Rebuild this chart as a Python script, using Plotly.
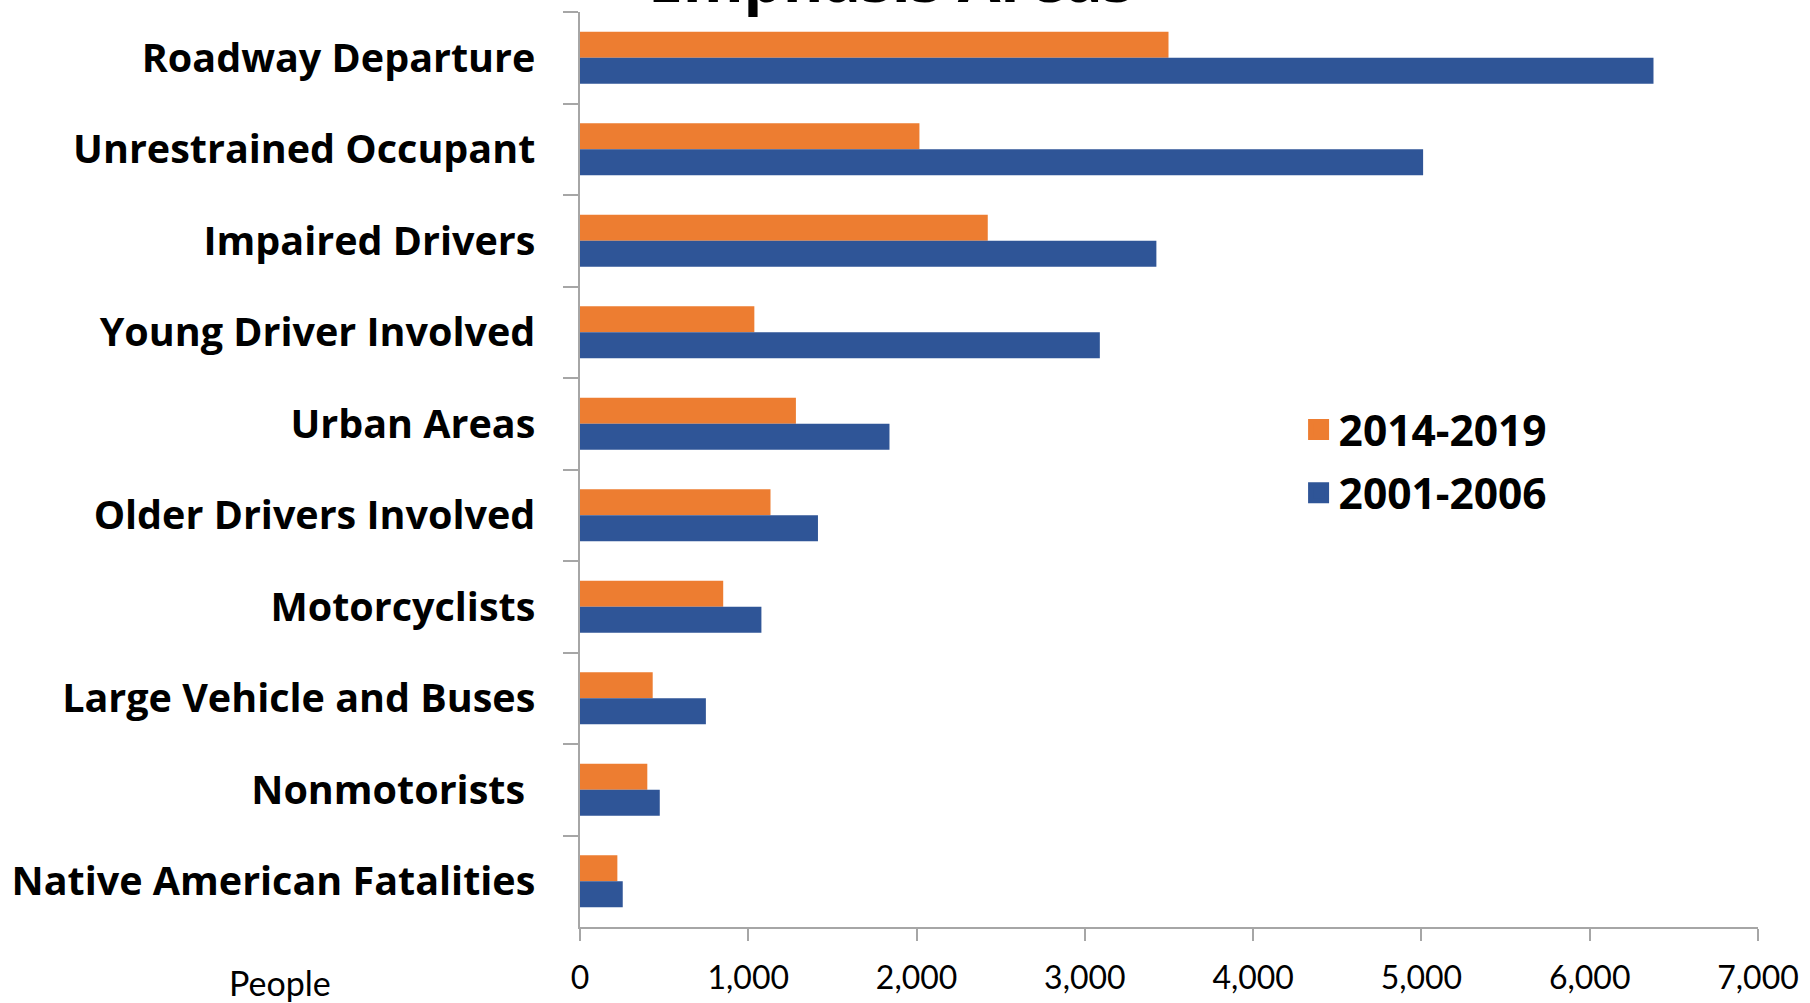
import plotly.graph_objects as go

categories = [
    "Roadway Departure",
    "Unrestrained Occupant",
    "Impaired Drivers",
    "Young Driver Involved",
    "Urban Areas",
    "Older Drivers Involved",
    "Motorcyclists",
    "Large Vehicle and Buses",
    "Nonmotorists\u00a0",
    "Native American Fatalities",
]
series_names = ["2014-2019", "2001-2006"]
values_2014_2019 = [3497, 2017, 2423, 1036, 1283, 1132, 851, 432, 400, 222]
values_2001_2006 = [6379, 5010, 3425, 3089, 1839, 1414, 1078, 748, 474, 254]
x_ticks = [0, 1000, 2000, 3000, 4000, 5000, 6000, 7000]

ORANGE = "#ED7D31"
BLUE = "#2F5597"
BOLD_FONT = "Open Sans, Calibri, Arial, sans-serif"
REG_FONT = "Lato, Calibri, Arial, sans-serif"

fig = go.Figure()
for name, vals, color in [(series_names[0], values_2014_2019, ORANGE),
                          (series_names[1], values_2001_2006, BLUE)]:
    fig.add_trace(go.Bar(
        y=categories, x=vals, orientation="h", name=name,
        marker=dict(color=color, line=dict(width=0)),
        showlegend=False, legendgroup=name,
    ))
    # legend entry with square marker
    fig.add_trace(go.Scatter(
        x=[None], y=[None], mode="markers", name=name, legendgroup=name,
        marker=dict(symbol="square", size=16, color=color,
                    line=dict(color=color, width=5)),
        showlegend=True,
    ))

fig.update_layout(
    width=1810, height=1003,
    margin=dict(l=580, r=52, t=12, b=76, autoexpand=False),
    paper_bgcolor="white", plot_bgcolor="white",
    barmode="group", bargap=0.43, bargroupgap=0,
    font=dict(family=REG_FONT, color="black"),
    legend=dict(
        x=0.610, y=0.581, xanchor="left", yanchor="top",
        font=dict(size=42.5, family=BOLD_FONT, color="black", weight="bold"),
        traceorder="grouped", tracegroupgap=5,
        bgcolor="rgba(0,0,0,0)",
    ),
    xaxis=dict(
        range=[0, 7000], tickvals=x_ticks, tickformat=",",
        showgrid=False, zeroline=False, automargin=False,
        showline=True, linecolor="#A6A6A6", linewidth=1.5,
        ticks="outside", ticklen=12, tickcolor="#A6A6A6", tickwidth=1.5,
        ticklabelstandoff=10,
        tickfont=dict(size=32, family=REG_FONT, color="black"),
    ),
    yaxis=dict(
        categoryorder="array", categoryarray=categories,
        autorange="reversed", automargin=False,
        showgrid=False, zeroline=False,
        showline=True, linecolor="#A6A6A6", linewidth=1.5,
        ticks="outside", ticklen=15, tickcolor="#A6A6A6", tickwidth=1.5,
        tickson="boundaries",
        ticklabelstandoff=35,
        tickfont=dict(size=39.5, family=BOLD_FONT, color="black", weight="bold"),
    ),
    annotations=[
        dict(text="Emphasis Areas", xref="paper", yref="paper",
             x=0.264, y=0.9889, xanchor="center", yanchor="bottom",
             showarrow=False,
             font=dict(size=62, family=BOLD_FONT, color="black", weight="bold")),
        dict(text="People", xref="paper", yref="paper",
             x=-0.2547, y=-0.061, xanchor="center", yanchor="middle",
             showarrow=False,
             font=dict(size=34, family=REG_FONT, color="black")),
    ],
)

fig.write_html(
    "out.html",
    config={"displayModeBar": False},
    post_script="document.body.style.margin='0';document.body.style.overflow='hidden';",
)
